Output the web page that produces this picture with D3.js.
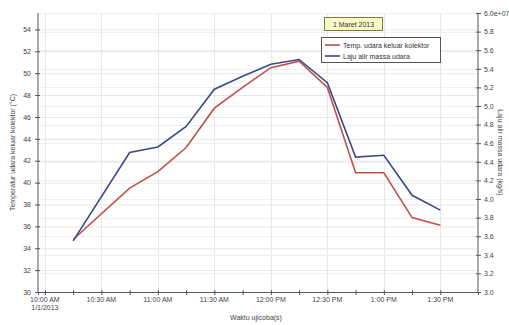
<!DOCTYPE html>
<html><head><meta charset="utf-8">
<script src="https://cdn.jsdelivr.net/npm/d3@7"></script>
<style>body{margin:0;background:#fff}svg{display:block;font-family:"Liberation Sans",Arial,sans-serif}</style>
</head><body><svg id="c" width="509" height="325"></svg>
<script>
const times = ["10:15","10:45","11:00","11:15","11:30","11:45","12:00","12:15","12:30","12:45","13:00","13:15","13:30"];
const tempValues = [34.8,39.5,41.0,43.2,46.8,48.7,50.5,51.1,48.7,40.9,40.9,36.8,36.1];
const flowValues = [3.55,4.50,4.56,4.78,5.18,5.32,5.45,5.50,5.25,4.45,4.47,4.04,3.88];
const leftTicks = [30,32,34,36,38,40,42,44,46,48,50,52,54];
const rightTicks = [3.0,3.2,3.4,3.6,3.8,4.0,4.2,4.4,4.6,4.8,5.0,5.2,5.4,5.6,5.8,6.0];
const xTickLabels = ["10:00 AM","10:30 AM","11:00 AM","11:30 AM","12:00 PM","12:30 PM","1:00 PM","1:30 PM"];
const seriesNames = ["Temp. udara keluar kolektor","Laju alir massa udara"];
const colors = ["#c0504a","#3b4a86"];

const svg = d3.select("#c");
const L=38, R=478, T=13, B=292;
const parse = s => { const [h,m]=s.split(":").map(Number); return new Date(2013,0,1,h,m); };
const x = d3.scaleTime().domain([new Date(2013,0,1,9,56,20), new Date(2013,0,1,13,50)]).range([L,R]);
const yL = d3.scaleLinear().domain([30,55.5]).range([B,T]);
const yR = d3.scaleLinear().domain([3.0,6.0]).range([B,T]);

const majorX = xTickLabels.map((s,i)=>new Date(2013,0,1,10,30*i));
const minorX = d3.range(0,15).map(i=>new Date(2013,0,1,10,15*i)).filter(d=>d<=x.domain()[1]);

// grid
const g = svg.append("g");
g.selectAll(".hg").data(leftTicks).join("line").attr("x1",L).attr("x2",R)
 .attr("y1",d=>yL(d)+.5).attr("y2",d=>yL(d)+.5).attr("stroke","#e6e6e6");
g.selectAll(".hr").data(rightTicks).join("line").attr("x1",L).attr("x2",R)
 .attr("y1",d=>Math.round(yR(d))+.5).attr("y2",d=>Math.round(yR(d))+.5).attr("stroke","#efefef");
g.selectAll(".vg").data(majorX).join("line").attr("y1",T).attr("y2",B)
 .attr("x1",d=>Math.round(x(d))+.5).attr("x2",d=>Math.round(x(d))+.5).attr("stroke","#e8e8e8");

// axes
const fs = "7px";
const ax = svg.append("g").attr("transform",`translate(0,${B})`)
 .call(d3.axisBottom(x).tickValues(minorX).tickSize(3).tickFormat(""));
ax.select(".domain").attr("stroke","#555");
ax.selectAll(".tick line").attr("stroke","#555").attr("y1",-2);
svg.append("g").selectAll("text").data(majorX).join("text")
 .attr("x",d=>x(d)).attr("y",B+10).attr("text-anchor","middle").attr("font-size",fs).attr("fill","#444")
 .text((d,i)=>xTickLabels[i]);
svg.append("text").attr("x",x(majorX[0])).attr("y",B+18).attr("text-anchor","middle").attr("font-size",fs).attr("fill","#444").text("1/1/2013");

const al = svg.append("g").attr("transform",`translate(${L},0)`)
 .call(d3.axisLeft(yL).tickValues(leftTicks).tickSize(3).tickPadding(4).tickFormat(d3.format("d")));
al.select(".domain").attr("stroke","#555").attr("d",`M0,${T}V${B}`);
al.selectAll(".tick line").attr("stroke","#555").attr("x2",-3).attr("x1",2);
al.selectAll("text").attr("font-size",fs).attr("fill","#444");

const ar = svg.append("g").attr("transform",`translate(${R},0)`)
 .call(d3.axisRight(yR).tickValues(rightTicks).tickSize(3).tickPadding(3)
 .tickFormat(d=> d===6.0 ? "6.0e+07" : d3.format(".1f")(d)));
ar.select(".domain").attr("stroke","#555").attr("d",`M0,${T}V${B}`);
ar.selectAll(".tick line").attr("stroke","#555").attr("x1",-2);
ar.selectAll("text").attr("font-size",fs).attr("fill","#444");

// titles
svg.append("text").attr("transform",`translate(15,${(T+B)/2}) rotate(-90)`).attr("text-anchor","middle")
 .attr("font-size",fs).attr("fill","#444").text("Temperatur udara keluar kolektor (°C)");
svg.append("text").attr("transform",`translate(498,${(T+B)/2}) rotate(90)`).attr("text-anchor","middle")
 .attr("font-size",fs).attr("fill","#444").text("Laju alir massa udara (kg/s)");
svg.append("text").attr("x",256).attr("y",320).attr("text-anchor","middle").attr("font-size",fs).attr("fill","#444").text("Waktu ujicoba(s)");

// lines
const dT = times.map((t,i)=>({t:parse(t),v:tempValues[i]}));
const dF = times.map((t,i)=>({t:parse(t),v:flowValues[i]}));
svg.append("path").datum(dT).attr("fill","none").attr("stroke",colors[0]).attr("stroke-width",1.6)
 .attr("d",d3.line().x(d=>x(d.t)).y(d=>yL(d.v)));
svg.append("path").datum(dF).attr("fill","none").attr("stroke",colors[1]).attr("stroke-width",1.6)
 .attr("d",d3.line().x(d=>x(d.t)).y(d=>yR(d.v)));

// date box
svg.append("rect").attr("x",324.5).attr("y",17.5).attr("width",58).attr("height",13)
 .attr("fill","#fbfbc8").attr("stroke","#7c7c3a");
svg.append("text").attr("x",353.5).attr("y",27).attr("text-anchor","middle").attr("font-size",fs).attr("fill","#333").text("1 Maret 2013");

// legend
const lg = svg.append("g");
lg.append("rect").attr("x",321.5).attr("y",37.5).attr("width",119).attr("height",25)
 .attr("fill","#fff").attr("stroke","#555");
seriesNames.forEach((n,i)=>{
  const yy = 45 + i*11;
  lg.append("line").attr("x1",325).attr("x2",340).attr("y1",yy).attr("y2",yy).attr("stroke",colors[i]).attr("stroke-width",1.6);
  lg.append("text").attr("x",343).attr("y",yy+2.5).attr("font-size",fs).attr("fill","#333").text(n);
});
</script></body></html>
